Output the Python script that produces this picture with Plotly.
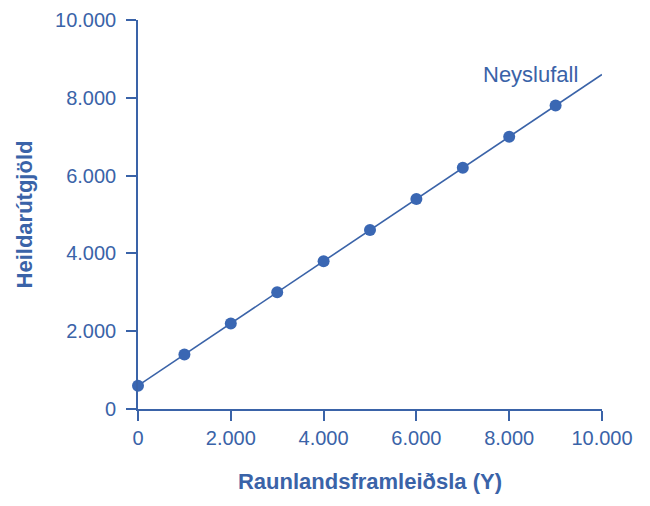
import plotly.graph_objects as go

## Data
income = [0, 1000, 2000, 3000, 4000, 5000, 6000, 7000, 8000, 9000]
spending = [600, 1400, 2200, 3000, 3800, 4600, 5400, 6200, 7000, 7800]

line_x = [0, 10000]
line_y = [600, 8600]

tick_vals = [0, 2000, 4000, 6000, 8000, 10000]
tick_text = ["0", "2.000", "4.000", "6.000", "8.000", "10.000"]

blue = "#3a63a8"
dot_blue = "#3a67b3"

fig = go.Figure()

# consumption function line
fig.add_trace(go.Scatter(
    x=line_x, y=line_y,
    mode="lines",
    line=dict(color=blue, width=1.6),
    hoverinfo="skip",
    cliponaxis=False,
))

# observed points
fig.add_trace(go.Scatter(
    x=income, y=spending,
    mode="markers",
    marker=dict(color=dot_blue, size=12),
    cliponaxis=False,
))

fig.add_annotation(
    x=8450, y=8600, text="Neyslufall",
    showarrow=False,
    font=dict(size=22, color=blue),
)

axis_style = dict(
    range=[0, 10000],
    tickvals=tick_vals,
    ticktext=tick_text,
    showline=True,
    linecolor=blue,
    linewidth=1.6,
    ticks="outside",
    ticklen=10,
    tickwidth=1.6,
    tickcolor=blue,
    showgrid=False,
    zeroline=False,
    automargin=False,
    ticklabeloverflow="allow",
    tickfont=dict(size=20, color=blue),
)

fig.update_xaxes(
    **axis_style,
    title=dict(text="<b>Raunlandsframleiðsla (Y)</b>", font=dict(size=22, color=blue), standoff=26),
)
fig.update_yaxes(
    **axis_style,
    ticklabelstandoff=6,
    title=dict(text="<b>Heildarútgjöld</b>", font=dict(size=22, color=blue), standoff=16),
)

# page body adds a small offset, so shift the margins to compensate
fig.update_layout(
    width=650,
    height=506,
    margin=dict(l=130, r=56, t=12, b=105),
    showlegend=False,
    plot_bgcolor="white",
    paper_bgcolor="white",
    font=dict(family="Liberation Sans, Arial, sans-serif", color=blue),
)

fig.write_html("out.html")
